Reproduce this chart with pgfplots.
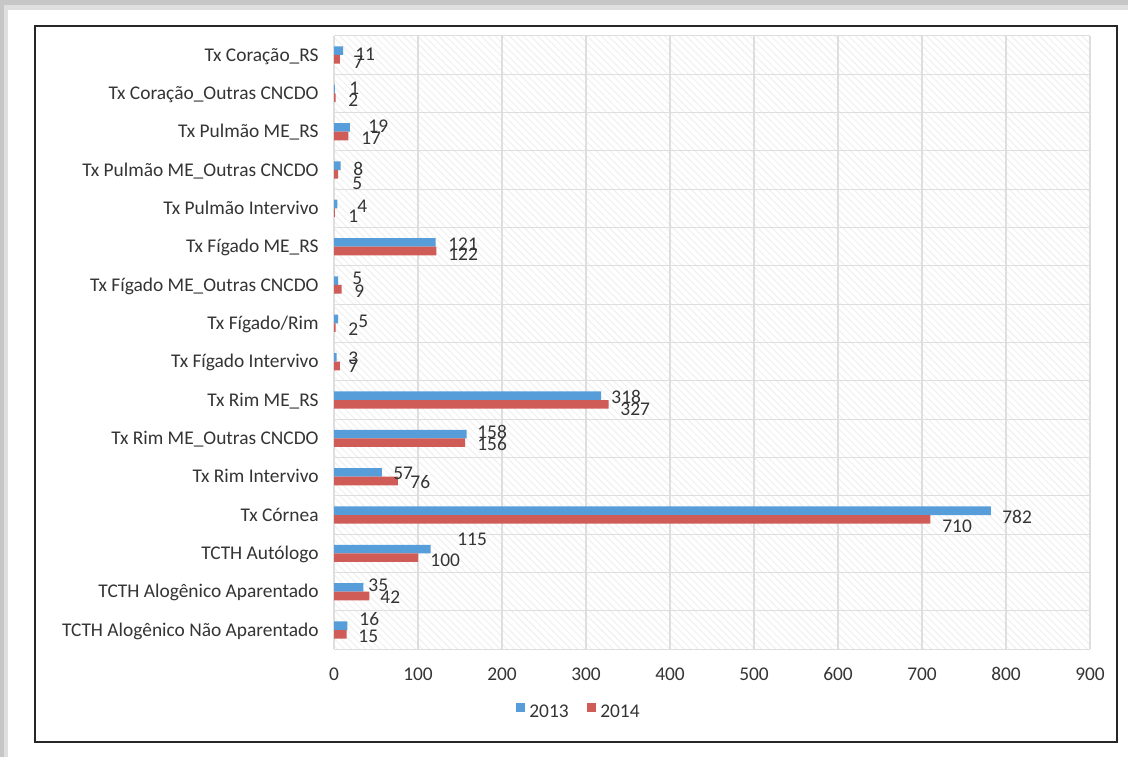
\documentclass[border=0pt]{standalone}
\usepackage{pgfplots}
\usepackage{pgfplotstable}
\pgfplotsset{compat=1.18}
\usepackage{fontspec}
\setmainfont{Carlito}
\usetikzlibrary{patterns.meta}
\definecolor{cA}{RGB}{86,157,217}
\definecolor{cB}{RGB}{208,92,88}
\definecolor{txt}{RGB}{52,52,52}
\definecolor{gridc}{RGB}{222,222,222}
\newcommand\lf{\fontsize{9.7}{11}\selectfont}

\pgfplotstableread{
y v
0 11
1 1
2 19
3 8
4 4
5 121
6 5
7 5
8 3
9 318
10 158
11 57
12 782
13 115
14 35
15 16
}\dataA
\pgfplotstableread{
y v
0 7
1 2
2 17
3 5
4 1
5 122
6 9
7 2
8 7
9 327
10 156
11 76
12 710
13 100
14 42
15 15
}\dataB
\pgfplotstableread{
lx ly t
25.0 -0.03 11
22.6 0.18 7
17.9 0.86 1
16.7 1.17 2
40.5 1.85 19
32.1 2.17 17
22.6 2.97 8
21.4 3.34 5
27.4 3.94 4
16.7 4.20 1
135.7 4.93 121
135.7 5.19 122
21.4 5.82 5
23.8 6.16 9
28.6 6.94 5
16.7 7.15 2
16.7 7.90 3
16.7 8.11 7
329.8 8.92 318
340.5 9.24 327
170.2 9.84 158
170.2 10.15 156
70.2 10.91 57
90.5 11.14 76
795.2 12.05 782
723.8 12.29 710
146.4 12.63 115
114.3 13.18 100
40.5 13.83 35
54.8 14.14 42
29.8 14.72 16
28.6 15.17 15
}\labels

\begin{document}
\begin{tikzpicture}
\useasboundingbox (0pt,0pt) rectangle (564pt,378.5pt);
\fill[gray!45] (0pt,0pt) rectangle (564pt,378.5pt);
\fill[gray!25] (2pt,0pt) rectangle (564pt,376pt);
\fill[white] (4pt,0pt) rectangle (564pt,373.5pt);
\draw[black!85, line width=0.8pt] (17.5pt,7.5pt) rectangle (558.5pt,365.5pt);
\begin{axis}[
  at={(167pt,53.9pt)}, anchor=south west,
  scale only axis, width=378pt, height=306.7pt,
  xbar, bar width=0.225,
  xmin=0, xmax=900, ymin=-0.5, ymax=15.5, y dir=reverse,
  xtick={0,100,...,900},
  ytick={0,...,15},
  yticklabels={Tx Coração\_RS, Tx Coração\_Outras CNCDO, Tx Pulmão ME\_RS, Tx Pulmão ME\_Outras CNCDO, Tx Pulmão Intervivo, Tx Fígado ME\_RS, Tx Fígado ME\_Outras CNCDO, Tx Fígado/Rim, Tx Fígado Intervivo, Tx Rim ME\_RS, Tx Rim ME\_Outras CNCDO, Tx Rim Intervivo, Tx Córnea, TCTH Autólogo, TCTH Alogênico Aparentado, TCTH Alogênico Não Aparentado},
  minor ytick={-0.5,0.5,...,15.5},
  xmajorgrids, yminorgrids,
  major grid style={gridc, line width=0.6pt},
  minor grid style={gridc, line width=0.6pt},
  major tick length=0pt, minor tick length=0pt,
  axis line style={draw=none},
  axis background/.style={pattern={Lines[angle=-45,distance=2.5pt,line width=0.5pt]}, pattern color=black!6},
  /pgf/number format/assume math mode=true,
  ticklabel style={font=\lf, text=txt},
  xticklabel style={anchor=base, inner sep=0pt, yshift=-15.4pt},
  yticklabel style={anchor=base east, inner sep=0pt, xshift=-7.5pt, yshift=-3.1pt},
  clip=false,
  legend columns=2,
  legend style={draw=none, fill=none, font=\lf, text=txt, at={(0.325,-0.104)}, anchor=center,
    /tikz/every even column/.append style={column sep=7pt}},
  legend image code/.code={\fill[#1] (0pt,0.4pt) rectangle (4.8pt,5.2pt);},
]
\addplot[fill=cA, draw=none, bar shift=-0.112] table[x=v, y=y] {\dataA};
\addplot[fill=cB, draw=none, bar shift=0.112] table[x=v, y=y] {\dataB};
\addplot[draw=none, fill=none, bar shift=0, bar width=0, forget plot,
  nodes near coords, point meta=explicit symbolic,
  nodes near coords style={anchor=west, inner sep=0pt, font=\lf, text=txt}]
  table[x=lx, y=ly, meta=t] {\labels};
\legend{2013, 2014}
\end{axis}
\end{tikzpicture}
\end{document}
